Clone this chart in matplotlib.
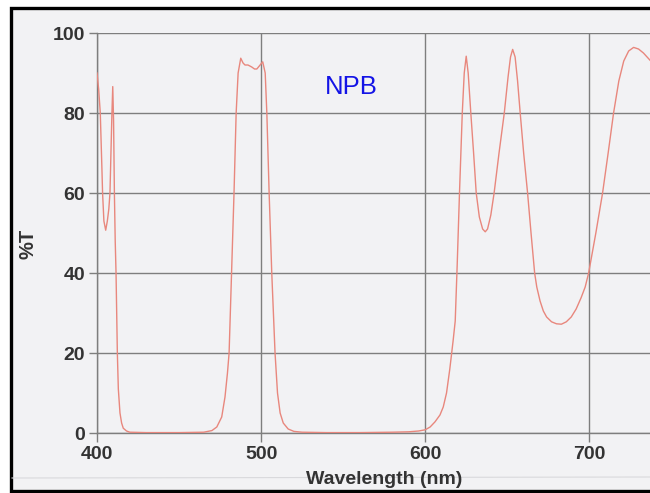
import matplotlib
matplotlib.use('Agg')
from matplotlib import pyplot as plt
from matplotlib.patches import Rectangle
from matplotlib.lines import Line2D

# transmission curve: wavelength (nm) and %T
wavelength = [
    400, 401, 402, 403, 403.4, 404.2, 405.3, 406.3, 407.2, 407.9, 408.5, 409.1,
    409.6, 410.1, 410.6, 411.1, 411.6, 412.4, 413, 414, 415, 416, 418, 420,
    430, 450, 465, 470, 473, 476, 478, 479.5, 480.5, 482, 483.5, 484.8, 486,
    487.6, 489, 490.2, 492, 494.3, 496, 497.4, 499, 501, 502.5, 503.5, 504.9,
    506.5, 508.5, 510, 511.6, 513.5, 516.5, 520, 525, 540, 560, 580, 590, 596,
    600, 603, 606, 609, 611, 613, 615, 617, 618.3, 619.5, 620.9, 622.6, 623.8,
    625, 626.2, 627.8, 629.5, 631.1, 633, 635, 636.6, 638, 640, 642, 645,
    648.2, 650.5, 652, 653.3, 654.8, 656.3, 657.9, 660, 662.4, 664.5, 666.7,
    668, 670, 672, 674, 677, 680, 683, 686, 689, 692, 695, 697.5, 699.6,
    704, 708.1, 711.5, 714.8, 718, 721, 724, 727, 730, 733, 737,
]
transmission = [
    90, 86, 80, 66, 60, 53, 50.7, 53, 56, 60, 70, 80,
    86.6, 78, 60, 48, 40, 20, 11, 5, 2.5, 1.2, 0.5, 0.2,
    0.1, 0.1, 0.2, 0.6, 1.5, 4, 9, 15, 20, 40, 60, 80, 90,
    93.7, 92.5, 92, 92, 91.5, 91, 91, 91.8, 92.8, 90, 80, 60,
    40, 20, 10, 5, 2.5, 1, 0.4, 0.2, 0.1, 0.1, 0.2, 0.3, 0.5,
    0.8, 1.5, 2.8, 4.5, 6.5, 10, 16, 23, 28, 42, 60, 80, 90,
    94.2, 90, 80, 70, 60, 54, 51, 50.3, 51, 54.5, 60, 70,
    80, 89, 94, 95.9, 94, 88, 80, 70, 60, 50, 40,
    36.5, 33, 30.5, 29, 27.8, 27.3, 27.2, 27.8, 29, 31, 33.8, 36.5, 40,
    50, 60, 70, 80, 88, 93, 95.5, 96.4, 96, 95, 93.2,
]

x_ticks = [400, 500, 600, 700]
y_ticks = [0, 20, 40, 60, 80, 100]

W, H = 650, 493
grid_col = '#7e7e7e'
label_col = '#333333'
paper = '#f2f2f4'

plt.rcParams['font.family'] = ['Liberation Sans', 'DejaVu Sans']

fig = plt.figure(figsize=(W / 100, H / 100), dpi=100, facecolor='white')

# scanned sheet with its black frame
fig.patches.append(Rectangle((10.5 / W, 2 / H), 660 / W, 483.5 / H,
                             transform=fig.transFigure, facecolor=paper,
                             edgecolor='black', linewidth=2.4, zorder=-10))
fig.lines.append(Line2D([12 / W, 1], [1 - 478 / H, 1 - 477 / H],
                        transform=fig.transFigure, color='#d9d9dc',
                        linewidth=0.8, zorder=-5))

ax = fig.add_axes([97 / W, 60 / H, (W - 97) / W, 400 / H])
ax.set_facecolor('none')

ax.plot(wavelength, transmission, color='#e8877d', linewidth=1.0, zorder=3)

ax.set_xlim(400, 737)
ax.set_ylim(0, 100)
ax.set_xticks(x_ticks)
ax.set_yticks(y_ticks)
ax.grid(True, color=grid_col, linewidth=1.0)
ax.set_axisbelow(True)

for side in ['top', 'right']:
    ax.spines[side].set_visible(False)
for side in ['left', 'bottom']:
    ax.spines[side].set_color(grid_col)
    ax.spines[side].set_linewidth(1.0)

ax.tick_params(axis='both', direction='out', color=grid_col, width=1.0,
               labelcolor=label_col, labelsize=14)
ax.tick_params(axis='x', length=6.5, pad=3)
ax.tick_params(axis='y', length=6, pad=2.5)
for lab in ax.get_xticklabels() + ax.get_yticklabels():
    lab.set_fontweight('bold')

fig.text(384.5 / W, 1 - 479 / H, 'Wavelength (nm)', ha='center', va='center',
         fontsize=14, fontweight='bold', color=label_col)
fig.text(28 / W, 1 - 244 / H, '%T', ha='center', va='center', rotation=90,
         fontsize=14.5, fontweight='bold', color=label_col)

ax.text(555, 86.5, 'NPB', ha='center', va='center', fontsize=18.5,
        color='#1414e6')

fig.savefig('out.png', dpi=100, facecolor=fig.get_facecolor())
